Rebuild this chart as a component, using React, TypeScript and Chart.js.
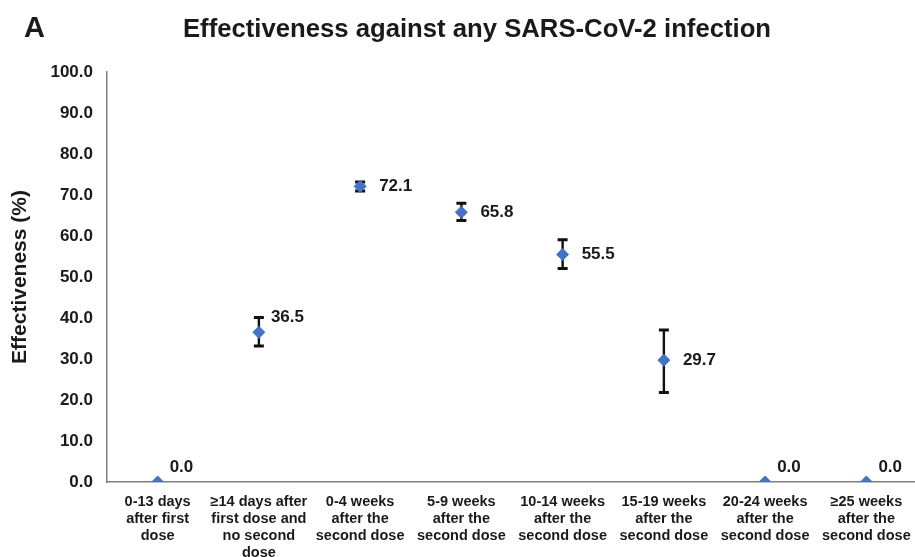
import React, { useEffect, useRef } from "react";
import { Chart, registerables } from "chart.js";

Chart.register(...registerables);

const categories: string[][] = [
  ["0-13 days", "after first", "dose"],
  ["≥14 days after", "first dose and", "no second", "dose"],
  ["0-4 weeks", "after the", "second dose"],
  ["5-9 weeks", "after the", "second dose"],
  ["10-14 weeks", "after the", "second dose"],
  ["15-19 weeks", "after the", "second dose"],
  ["20-24 weeks", "after the", "second dose"],
  ["≥25 weeks", "after the", "second dose"],
];
const effectiveness = [0.0, 36.5, 72.1, 65.8, 55.5, 29.7, 0.0, 0.0];
const ciLower: (number | null)[] = [null, 33.2, 71.0, 63.8, 52.1, 21.8, null, null];
const ciUpper: (number | null)[] = [null, 40.1, 73.2, 68.0, 59.1, 37.1, null, null];
const yMin = 0;
const yMax = 100;
const yStep = 10;
const chartTitle = "Effectiveness against any SARS-CoV-2 infection";
const panelLetter = "A";
const yAxisTitle = "Effectiveness (%)";

// style: where each value label sits relative to its marker
const labelPlacement = ["above", "above", "right", "right", "right", "right", "above", "above"];

const FONT = "'Liberation Sans', Arial, Helvetica, sans-serif";
const BLUE = "#4472C4";
const TEXT = "#1a1a1a";

const overlayPlugin = {
  id: "overlay",
  beforeDatasetsDraw(chart: any) {
    const ctx = chart.ctx;
    const meta = chart.getDatasetMeta(0);
    const y = chart.scales.y;
    ctx.save();
    ctx.strokeStyle = "#111";
    meta.data.forEach((pt: any, i: number) => {
      const lo = ciLower[i];
      const hi = ciUpper[i];
      if (lo == null || hi == null) return;
      const x = pt.x;
      const yl = y.getPixelForValue(lo);
      const yh = y.getPixelForValue(hi);
      ctx.lineWidth = 2.4;
      ctx.beginPath();
      ctx.moveTo(x, yl);
      ctx.lineTo(x, yh);
      ctx.stroke();
      ctx.lineWidth = 3;
      ctx.beginPath();
      ctx.moveTo(x - 5, yl);
      ctx.lineTo(x + 5, yl);
      ctx.moveTo(x - 5, yh);
      ctx.lineTo(x + 5, yh);
      ctx.stroke();
    });
    ctx.restore();
  },
  afterDatasetsDraw(chart: any) {
    const ctx = chart.ctx;
    const meta = chart.getDatasetMeta(0);
    ctx.save();
    ctx.fillStyle = TEXT;
    ctx.font = `bold 17px ${FONT}`;
    ctx.textAlign = "left";
    ctx.textBaseline = "middle";
    meta.data.forEach((pt: any, i: number) => {
      const txt = effectiveness[i].toFixed(1);
      if (labelPlacement[i] === "above") {
        ctx.fillText(txt, pt.x + 12, pt.y - 15);
      } else {
        ctx.fillText(txt, pt.x + 19, pt.y);
      }
    });
    ctx.restore();
  },
  afterDraw(chart: any) {
    const ctx = chart.ctx;
    ctx.save();
    ctx.fillStyle = TEXT;
    ctx.textBaseline = "alphabetic";
    ctx.font = `bold 29px ${FONT}`;
    ctx.textAlign = "left";
    ctx.fillText(panelLetter, 24, 37);
    ctx.font = `bold 25.7px ${FONT}`;
    ctx.textAlign = "center";
    ctx.fillText(chartTitle, 477, 37);

    // category labels
    const xs = chart.scales.x;
    const labels = chart.data.labels as string[][];
    ctx.font = `bold 14.5px ${FONT}`;
    ctx.textAlign = "center";
    ctx.textBaseline = "middle";
    const lineH = 17;
    const firstY = xs.top + 19.7;
    labels.forEach((lines, i) => {
      const x = xs.getPixelForTick(i);
      lines.forEach((ln, k) => {
        ctx.fillText(ln, x, firstY + k * lineH);
      });
    });
    ctx.restore();
  },
};

export default function App() {
  const ref = useRef<HTMLCanvasElement | null>(null);
  useEffect(() => {
    if (!ref.current) return;
    const chart = new Chart(ref.current, {
      type: "line",
      data: {
        labels: categories,
        datasets: [
          {
            data: effectiveness,
            showLine: false,
            pointStyle: "rectRot",
            pointRadius: 6,
            pointBackgroundColor: BLUE,
            pointBorderColor: BLUE,
            pointBorderWidth: 1,
          },
        ],
      },
      options: {
        responsive: false,
        animation: false,
        devicePixelRatio: 1,
        layout: { padding: { top: 72, left: 0, right: 0, bottom: 0 } },
        plugins: {
          legend: { display: false },
          tooltip: { enabled: false },
          title: { display: false },
        },
        scales: {
          x: {
            type: "category",
            offset: true,
            grid: { display: false, drawTicks: false },
            border: { display: true, color: "#7f7f7f", width: 1.5 },
            ticks: { display: false, autoSkip: false, maxRotation: 0 },
            afterFit(scale: any) {
              scale.height = 75;
            },
          },
          y: {
            min: yMin,
            max: yMax,
            grid: { display: false, drawTicks: false },
            border: { display: true, color: "#7f7f7f", width: 1.5 },
            ticks: {
              stepSize: yStep,
              color: TEXT,
              font: { family: FONT, size: 17, weight: "bold" },
              padding: 14,
              callback: (v: any) => Number(v).toFixed(1),
            },
            title: {
              display: true,
              text: yAxisTitle,
              color: TEXT,
              font: { family: FONT, size: 21, weight: "bold", lineHeight: 1.2 },
              padding: { top: 8, bottom: 0 },
            },
            afterFit(scale: any) {
              scale.width = 107;
            },
          },
        },
      },
      plugins: [overlayPlugin],
    } as any);
    return () => chart.destroy();
  }, []);
  return (
    <div style={{ position: "fixed", left: 0, top: 0, width: 915, height: 557, overflow: "hidden", background: "#fff" }}>
      <canvas ref={ref} width={924} height={557} style={{ display: "block" }} />
    </div>
  );
}
